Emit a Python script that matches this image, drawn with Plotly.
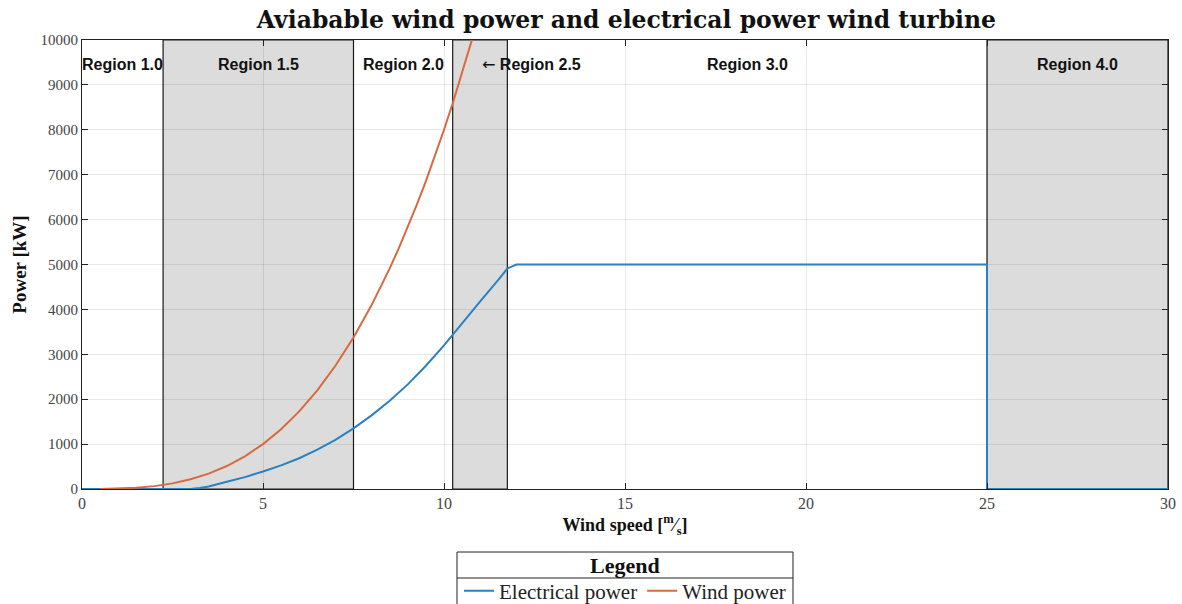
import plotly.graph_objects as go

# Wind speed samples [m/s] and available wind power [kW]
wind_speed_avail = [0.5, 1.0, 1.5, 2.0, 2.5, 3.0, 3.5, 4.0, 4.5, 5.0, 5.5, 6.0, 6.5, 7.0,
                    7.5, 8.0, 8.25, 8.5, 8.75, 9.0, 9.25, 9.5, 9.75, 10.0, 10.25, 10.5, 10.8]
wind_power = [1, 8, 27, 64, 125, 216, 343, 512, 729, 1000, 1331, 1728, 2197, 2744,
              3375, 4096, 4492, 4913, 5359, 5832, 6332, 6859, 7415, 8000, 8615, 9261, 10080]

# Wind speed samples [m/s] and electrical power output [kW]
wind_speed_elec = [0, 3.0, 3.25, 3.5, 4.0, 4.5, 5.0, 5.5, 6.0, 6.5, 7.0, 7.5, 8.0, 8.5,
                   9.0, 9.5, 10.0, 10.25, 10.5, 11.0, 11.5, 11.75, 12.0, 25.0, 25.0, 30.0]
electrical_power = [0, 0, 20, 55, 160, 265, 390, 525, 685, 875, 1095, 1350, 1640, 1965,
                    2330, 2745, 3200, 3450, 3700, 4180, 4660, 4910, 5000, 5000, 0, 0]

# Operating regions: boundaries [m/s], label text, shaded or not
region_edges = [0, 2.24, 7.5, 10.24, 11.75, 25, 30]
region_labels = ["Region 1.0", "Region 1.5", "Region 2.0", "\u2190 Region 2.5", "Region 3.0", "Region 4.0"]
region_shaded = [False, True, False, True, False, True]

x_ticks = [0, 5, 10, 15, 20, 25, 30]
y_ticks = [0, 1000, 2000, 3000, 4000, 5000, 6000, 7000, 8000, 9000, 10000]
y_tick_text = [str(v) for v in y_ticks]

BLUE = "#2b80c2"
ORANGE = "#d76a3e"
SERIF = "Liberation Serif, Times New Roman, serif"
SANS = "Liberation Sans, Arial, sans-serif"

# plot-area geometry in pixels, used to place the legend frame in paper units
W, H = 1182, 604
L, R, T, B = 82, 14, 40, 115
PW, PH = W - L - R, H - T - B


def px_x(p):
    return (p - L) / PW


def px_y(p):
    return (H - B - p) / PH


fig = go.Figure()

fig.add_trace(go.Scatter(x=wind_speed_elec, y=electrical_power, mode="lines",
                         name="Electrical power", line=dict(color=BLUE, width=2)))
fig.add_trace(go.Scatter(x=wind_speed_avail, y=wind_power, mode="lines",
                         name="Wind power", line=dict(color=ORANGE, width=2)))

shapes = []
annotations = []
for i, label in enumerate(region_labels):
    x0, x1 = region_edges[i], region_edges[i + 1]
    if region_shaded[i]:
        shapes.append(dict(type="rect", xref="x", yref="y", x0=x0, x1=x1, y0=0, y1=10000,
                           fillcolor="#dcdcdc", line=dict(color="#1a1a1a", width=1.2),
                           layer="below"))
    xc = (x0 + x1) / 2
    if label.startswith("\u2190"):
        text = ("<span style='font-family:DejaVu Sans'>\u2190</span> <b>"
                + label[1:].strip() + "</b>")
        anchor = "left"
    else:
        text = "<b>" + label + "</b>"
        anchor = "center"
    annotations.append(dict(x=xc, y=9450, xref="x", yref="y", text=text,
                            showarrow=False, xanchor=anchor,
                            font=dict(family=SANS, size=16, color="#111")))

# legend frame: outer box, title, separator line
shapes.append(dict(type="rect", xref="paper", yref="paper",
                   x0=px_x(457), x1=px_x(793), y0=px_y(552), y1=px_y(612),
                   line=dict(color="#222", width=1), fillcolor="rgba(0,0,0,0)"))
shapes.append(dict(type="line", xref="paper", yref="paper",
                   x0=px_x(457), x1=px_x(793), y0=px_y(578), y1=px_y(578),
                   line=dict(color="#222", width=1)))
annotations.append(dict(x=px_x(625), y=px_y(565), xref="paper", yref="paper",
                        text="<b>Legend</b>", showarrow=False, xanchor="center",
                        yanchor="middle",
                        font=dict(family=SERIF, size=22, color="#111")))

fig.update_layout(
    width=W, height=H,
    margin=dict(l=L, r=R, t=T, b=B, autoexpand=False),
    paper_bgcolor="white", plot_bgcolor="rgba(0,0,0,0)",
    title=dict(text="<b>Aviabable wind power and electrical power wind turbine</b>",
               x=0.53, xref="container", y=0.967, yref="container", yanchor="middle",
               xanchor="center",
               font=dict(family="DejaVu Serif, serif", size=23.5, color="#111")),
    shapes=shapes,
    annotations=annotations,
    showlegend=True,
    legend=dict(orientation="h", x=0.5, xanchor="center",
                y=1 - 591 / 604, yref="container", yanchor="middle",
                borderwidth=0, bgcolor="rgba(0,0,0,0)",
                font=dict(family=SERIF, size=21, color="#222"),
                itemwidth=30, tracegroupgap=0),
)

fig.update_xaxes(range=[0, 30], tickvals=x_ticks, ticks="inside", ticklen=6,
                 tickcolor="#222", showline=True, linecolor="#222", linewidth=1.2,
                 mirror="ticks", showgrid=True, gridcolor="rgba(0,0,0,0.09)", gridwidth=1,
                 zeroline=False, automargin=False,
                 tickfont=dict(family=SERIF, size=16, color="#444"),
                 title=dict(text="<b>Wind speed [<sup>m</sup>\u2044<sub>s</sub>]</b>",
                            font=dict(family=SERIF, size=18, color="#111"), standoff=4))
fig.update_yaxes(range=[0, 10000], tickvals=y_ticks, ticktext=y_tick_text,
                 ticks="inside", ticklen=6,
                 tickcolor="#222", showline=True, linecolor="#222", linewidth=1.2,
                 mirror="ticks", showgrid=True, gridcolor="rgba(0,0,0,0.09)", gridwidth=1,
                 zeroline=False, automargin=False,
                 tickfont=dict(family=SERIF, size=15, color="#444"),
                 title=dict(text="<b>Power [kW]</b>",
                            font=dict(family=SERIF, size=19, color="#111"), standoff=8))

fig.write_html("out.html")
